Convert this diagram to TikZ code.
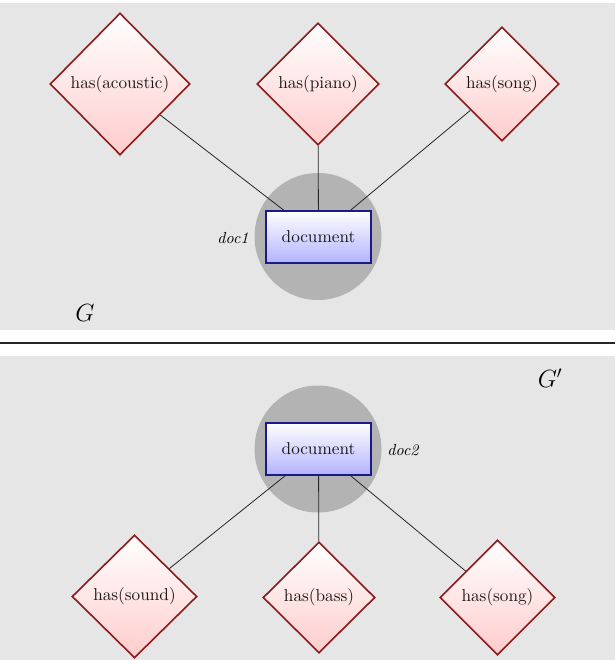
\documentclass[tikz,border=0pt]{standalone}
\usepackage{fontspec}
\usepackage{graphicx}
\usetikzlibrary{shapes.geometric}
\definecolor{panelbg}{HTML}{E6E6E6}
\definecolor{blobgray}{HTML}{B3B3B3}
\definecolor{relborder}{HTML}{8B1A1A}
\definecolor{docborder}{HTML}{1A1A8B}
\newcommand\bt[1]{\scalebox{1.72}{#1}}
\newcommand\lt[1]{\scalebox{1.6}{\itshape #1}}
\tikzset{
  relnode/.style={diamond, draw=relborder, line width=1.6pt, top color=white, bottom color=red!20,
    inner sep=0pt, text=black!90},
  docnode/.style={rectangle, draw=docborder, line width=1.6pt, top color=white, bottom color=blue!30,
    minimum width=105pt, minimum height=52pt, inner sep=0pt, text=black!90},
  blob/.style={circle, fill=blobgray, minimum size=127pt, inner sep=0pt},
  lbl/.style={inner sep=0pt},
  edge/.style={line width=0.8pt, draw=black!85},
  panel/.style={fill=panelbg, draw=none}
}
\begin{document}
\begin{tikzpicture}[x=1pt,y=-1pt]
\useasboundingbox (0,0) rectangle (615,660);
\fill[white] (0,0) rectangle (615,660);
\path[panel] (0,3) rectangle (615,330);
\path[panel] (0,356) rectangle (615,660);
\draw[line width=1.2pt, black!85] (0,343) -- (615,343);

% top graph
\node[blob] (b1) at (318,236.5) {};
\node[docnode] (d1) at (318.5,237) {\bt{document}};
\node[lbl, anchor=center] (l1) at (233,238) {\lt{doc1}};
\node[relnode, minimum width=140pt, minimum height=142pt] (r1) at (120,84) {\bt{has(acoustic)}};
\node[relnode, minimum width=122pt, minimum height=122pt] (r2) at (318,84) {\bt{has(piano)}};
\node[relnode, minimum width=114pt, minimum height=114pt] (r3) at (502,84) {\bt{has(song)}};
\draw[edge] (r1) -- (d1);
\draw[edge] (r2) -- (d1);
\draw[edge] (r3) -- (d1);
\node[font=\fontsize{24}{28}\selectfont] (g1) at (85,313) {$G$};

% bottom graph
\node[blob] (b2) at (318,449) {};
\node[docnode] (d2) at (318.5,449) {\bt{document}};
\node[lbl, anchor=center] (l2) at (403,450) {\lt{doc2}};
\node[relnode, minimum width=125pt, minimum height=123pt] (s1) at (134.5,596.5) {\bt{has(sound)}};
\node[relnode, minimum width=112pt, minimum height=111pt] (s2) at (319,597.5) {\bt{has(bass)}};
\node[relnode, minimum width=115pt, minimum height=115pt] (s3) at (497.5,597.5) {\bt{has(song)}};
\draw[edge] (d2) -- (s1);
\draw[edge] (d2) -- (s2);
\draw[edge] (d2) -- (s3);
\node[font=\fontsize{24}{28}\selectfont] (g2) at (550,378) {$G'$};
\end{tikzpicture}
\end{document}
